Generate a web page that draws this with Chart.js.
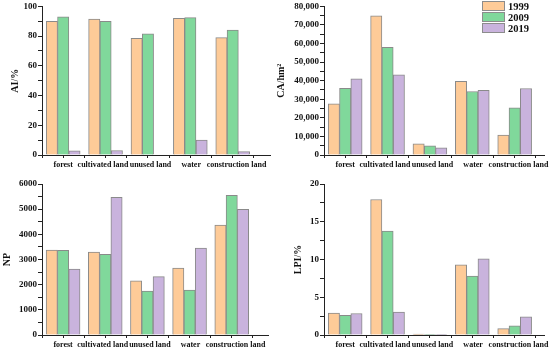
<!DOCTYPE html>
<html>
<head>
<meta charset="utf-8">
<script src="https://cdn.jsdelivr.net/npm/chart.js@4.4.0/dist/chart.umd.min.js"></script>
<style>
    body { margin: 0; background: #fff; overflow: hidden; }
    #wrap { position: relative; width: 550px; height: 351px; background: #fff; overflow: hidden; }
    .panel { position: absolute; }
    .panel canvas { display: block; }
    .legend { position: absolute; left: 482px; top: 1px; font: bold 10.5px 'Liberation Serif', 'Times New Roman', serif; color: #111; }
    .legend-row { display: flex; align-items: center; height: 10.8px; }
    .legend-box { width: 21px; height: 8px; border: 1px solid #8c8c8c; margin-right: 3px; }
</style>
</head>
<body>
<div id="wrap">
    <div class="panel" style="left:0;top:0"><canvas id="aiChart" width="275" height="175"></canvas></div>
    <div class="panel" style="left:275px;top:0"><canvas id="caChart" width="275" height="175"></canvas></div>
    <div class="panel" style="left:0;top:175px"><canvas id="npChart" width="275" height="176"></canvas></div>
    <div class="panel" style="left:275px;top:175px"><canvas id="lpiChart" width="275" height="176"></canvas></div>
    <div class="legend" id="legend"></div>
</div>
<script>
const categories = ['forest', 'cultivated land', 'unused land', 'water', 'construction land'];
const years = ['1999', '2009', '2019'];
const yearColors = ['#fecb98', '#80d89b', '#c9b3dd'];

const ai1999 = [90, 91.5, 78.5, 92, 79];
const ai2009 = [93, 90, 81.5, 92.5, 84];
const ai2019 = [2.8, 3, null, 10, 2.3];

const ca1999 = [27500, 74900, 6000, 39600, 10700];
const ca2009 = [35900, 57900, 5000, 34200, 25400];
const ca2019 = [41000, 43200, 3800, 34800, 35800];

const np1999 = [3370, 3290, 2150, 2660, 4370];
const np2009 = [3360, 3210, 1750, 1780, 5550];
const np2019 = [2620, 5470, 2320, 3450, 4990];

const lpi1999 = [2.9, 17.95, 0.12, 9.3, 0.85];
const lpi2009 = [2.62, 13.75, 0.06, 7.8, 1.2];
const lpi2019 = [2.85, 3.05, 0.06, 10.1, 2.42];

const aiTicks = { max: 100, step: 10, labelEvery: 20, comma: false };
const caTicks = { max: 80000, step: 5000, labelEvery: 10000, comma: true };
const npTicks = { max: 6000, step: 500, labelEvery: 1000, comma: false };
const lpiTicks = { max: 20, step: 2.5, labelEvery: 5, comma: false };

// the category names sit a little off-centre in the original
const labelNudge = [0, -0.06, 0.06, 0.02, 0.09];

const serif = "'Liberation Serif', 'Times New Roman', serif";
const axisColor = '#222';

function makePanel(id, series, yTicks, title, opts) {
    const ctx = document.getElementById(id).getContext('2d');

    // tick marks: category boundaries and category centres
    const markValues = [];
    for (let v = -0.5; v <= categories.length - 0.5; v += 0.5) markValues.push(v);
    const labelValues = categories.map((c, i) => i + labelNudge[i]);

    const yValues = [];
    for (let k = 0; k * yTicks.step <= yTicks.max; k++) yValues.push(k * yTicks.step);

    return new Chart(ctx, {
        type: 'bar',
        data: {
            labels: categories.map((c, i) => i),
            datasets: series.map((data, i) => ({
                label: years[i],
                data: data,
                backgroundColor: yearColors[i],
                borderColor: '#8a8a8a',
                borderWidth: 1,
                barThickness: 11.3
            }))
        },
        options: {
            responsive: false,
            animation: false,
            layout: { padding: opts.padding },
            plugins: { legend: { display: false }, tooltip: { enabled: false } },
            scales: {
                x: {
                    type: 'linear',
                    min: -0.5,
                    max: opts.xMax,
                    offset: false,
                    afterFit: s => { s.height = 4; },
                    afterBuildTicks: s => { s.ticks = markValues.map(v => ({ value: v })); },
                    border: { color: axisColor, width: 1 },
                    grid: { display: true, drawOnChartArea: false, offset: false, tickLength: 3, tickColor: axisColor },
                    ticks: { display: false }
                },
                xNames: {
                    type: 'linear',
                    position: 'bottom',
                    min: -0.5,
                    max: opts.xMax,
                    offset: false,
                    afterFit: s => { s.height = opts.xHeight - 4; },
                    afterBuildTicks: s => { s.ticks = labelValues.map(v => ({ value: v })); },
                    border: { display: false },
                    grid: { display: false, drawTicks: false },
                    ticks: {
                        autoSkip: false,
                        maxRotation: 0,
                        minRotation: 0,
                        padding: 1,
                        color: '#111',
                        font: { family: serif, size: 8, weight: 'bold' },
                        callback: (v, i) => categories[i]
                    }
                },
                y: {
                    min: 0,
                    max: yTicks.max,
                    afterFit: s => { s.width = opts.yWidth; },
                    afterBuildTicks: s => { s.ticks = yValues.map(v => ({ value: v })); },
                    border: { color: axisColor, width: 1 },
                    grid: { display: true, drawOnChartArea: false, tickLength: 4, tickColor: axisColor },
                    title: {
                        display: true,
                        text: title,
                        color: '#111',
                        padding: { top: opts.titlePad, bottom: 0 },
                        font: { family: serif, size: 10, weight: 'bold' }
                    },
                    ticks: {
                        autoSkip: false,
                        padding: 1,
                        color: '#111',
                        font: { family: serif, size: 9, weight: 'bold' },
                        callback: v => {
                            if (v % yTicks.labelEvery !== 0) return '';
                            return yTicks.comma ? v.toLocaleString('en-US') : String(v);
                        }
                    }
                }
            }
        }
    });
}

function buildLegend() {
    const legend = document.getElementById('legend');
    years.forEach((y, i) => {
        const row = document.createElement('div');
        row.className = 'legend-row';
        row.innerHTML = `<span class="legend-box" style="background:${yearColors[i]}"></span><span>${y}</span>`;
        legend.appendChild(row);
    });
}

buildLegend();

const charts = [];
charts.push(makePanel('caChart', [ca1999, ca2009, ca2019], caTicks, 'CA/hm²',
    { padding: { top: 5, right: 5, left: 0, bottom: 0 }, xMax: 4.71, xHeight: 20, yWidth: 49, titlePad: 0 }));
charts.push(makePanel('npChart', [np1999, np2009, np2019], npTicks, 'NP',
    { padding: { top: 9, right: 7, left: 0, bottom: 0 }, xMax: 4.86, xHeight: 16, yWidth: 42, titlePad: 1 }));
charts.push(makePanel('lpiChart', [lpi1999, lpi2009, lpi2019], lpiTicks, 'LPI/%',
    { padding: { top: 9, right: 5, left: 0, bottom: 0 }, xMax: 4.71, xHeight: 16, yWidth: 49, titlePad: 17 }));
charts.push(makePanel('aiChart', [ai1999, ai2009, ai2019], aiTicks, 'AI/%',
    { padding: { top: 6, right: 5, left: 0, bottom: 0 }, xMax: 4.88, xHeight: 20, yWidth: 42, titlePad: 9 }));

// redraw once the fonts are settled
if (document.fonts && document.fonts.ready) {
    document.fonts.ready.then(() => charts.forEach(c => c.update('none')));
}
</script>
</body>
</html>
